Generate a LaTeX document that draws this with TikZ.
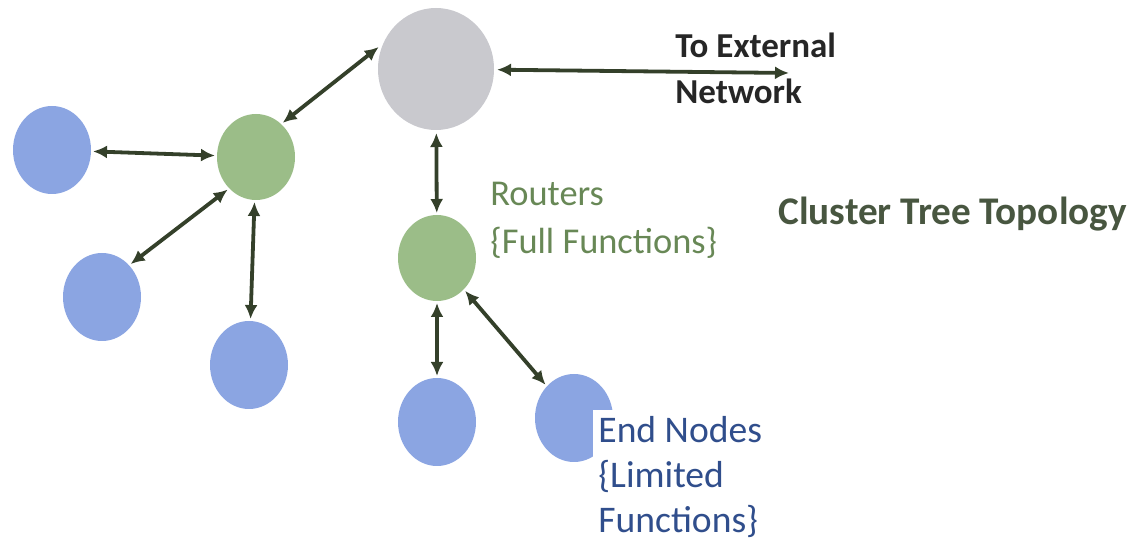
\documentclass[tikz,border=0pt]{standalone}
\usepackage{fontspec}
\setmainfont{Carlito}
\usetikzlibrary{arrows.meta,shapes.geometric}

\definecolor{hubgray}{RGB}{201,201,206}
\definecolor{routergreen}{RGB}{155,189,136}
\definecolor{endblue}{RGB}{139,165,226}
\definecolor{linkdark}{RGB}{52,64,42}
\definecolor{routertext}{RGB}{104,136,86}
\definecolor{endtext}{RGB}{48,78,140}
\definecolor{titletext}{RGB}{72,86,64}

\begin{document}
\begin{tikzpicture}[x=.5pt,y=-.5pt,
    hub/.style={ellipse,fill=hubgray,minimum width=58pt,minimum height=61pt,inner sep=0pt,outer sep=1.5pt},
    router/.style={ellipse,fill=routergreen,minimum width=39pt,minimum height=43pt,inner sep=0pt,outer sep=1pt},
    enode/.style={ellipse,fill=endblue,minimum width=39pt,minimum height=44pt,inner sep=0pt,outer sep=1pt},
    link/.style={{Latex[length=7pt,width=6.5pt]}-{Latex[length=7pt,width=6.5pt]},line width=1.9pt,draw=linkdark},
    lbl/.style={anchor=north west,inner sep=0pt,align=left}]

      \useasboundingbox (0,0) rectangle (1132,545);

      % hub and routers
      \node[hub] (hub) at (436,69) {};
      \node[router] (rleft) at (256,157) {};
      \node[router] (rmid) at (437,258) {};
      \coordinate (ext) at (789,73);

      % end nodes
      \foreach \name/\x/\y in {e1/52/150,e2/102/297,e3/249/365,e4/437/422,e5/574/418} {
        \node[enode] (\name) at (\x,\y) {};
      }

      % links
      \draw[link] (hub) -- (ext);
      \draw[link] (hub.159) -- (rleft.52);
      \draw[link] (hub) -- (rmid);
      \draw[link] (e1) -- (rleft);
      \draw[link] (rleft.229) -- (e2.49);
      \draw[link] (rleft) -- (e3);
      \draw[link] (rmid) -- (e4);
      \draw[link] (rmid) -- (e5);

      % labels
      \node[lbl,font=\fontsize{17.5pt}{23pt}\selectfont\bfseries,text=black!85] (extlbl) at (675,33) {To External\\Network};
      \node[lbl,font=\fontsize{18.2pt}{24pt}\selectfont,text=routertext] (routerlbl) at (490,182) {Routers\\\{Full Functions\}};
      \node[lbl,font=\fontsize{18.8pt}{22.5pt}\selectfont,text=endtext,fill=white,inner xsep=2.5pt,inner ysep=3pt] (endlbl) at (593,410) {End Nodes\\\{Limited\\Functions\}};
      \node[lbl,font=\fontsize{19.6pt}{23pt}\selectfont\bfseries,text=titletext] (title) at (778,197) {Cluster Tree Topology};

    \end{tikzpicture}
\end{document}
